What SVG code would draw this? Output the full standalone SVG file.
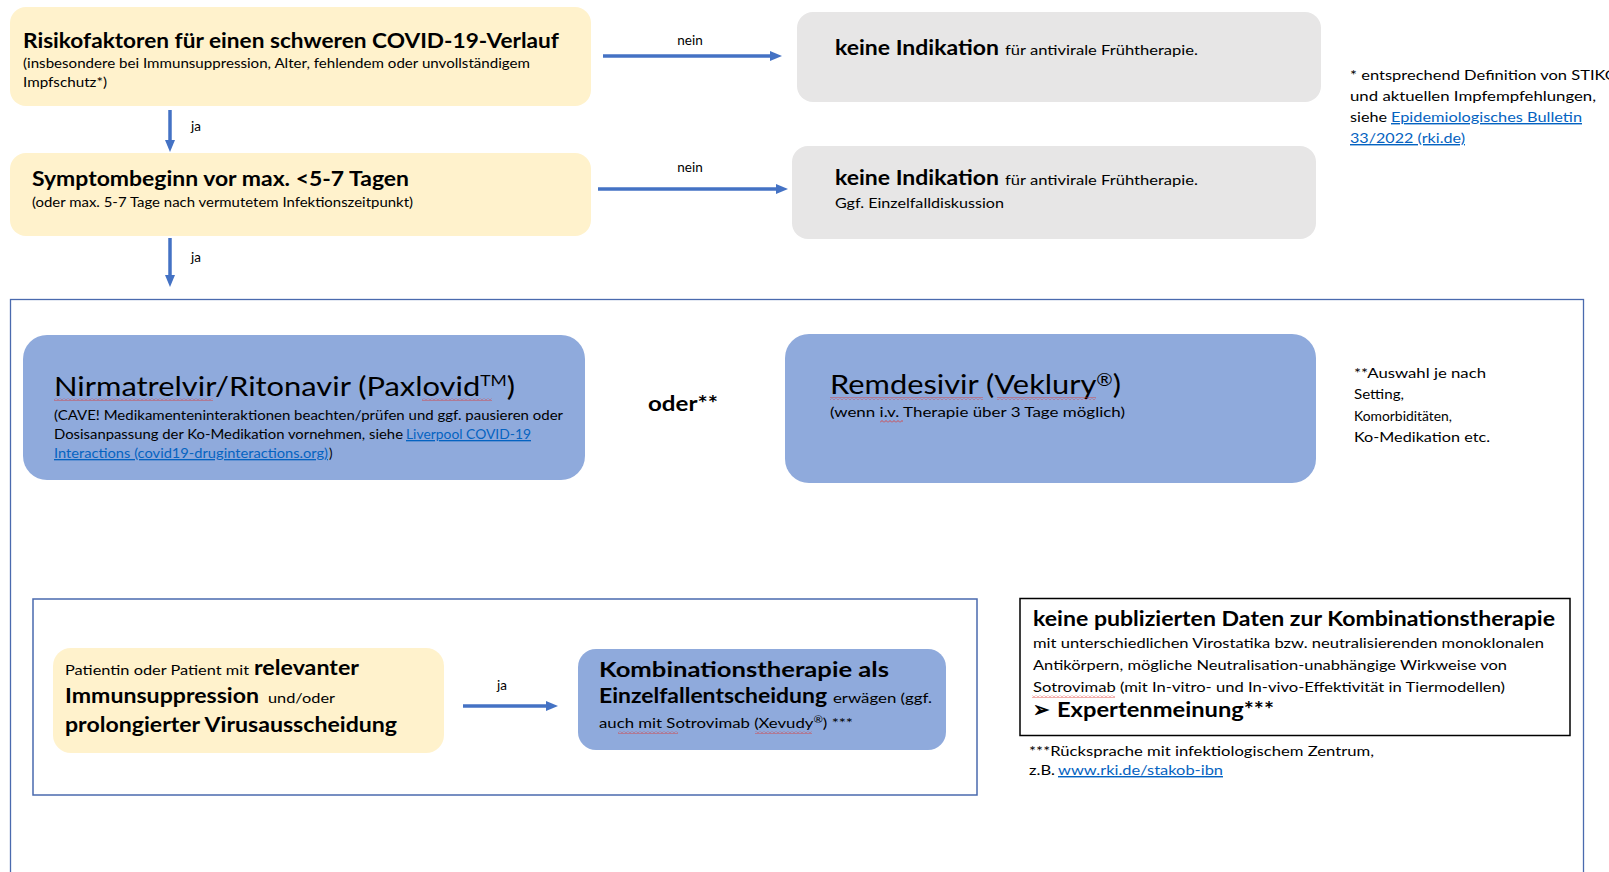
<svg xmlns="http://www.w3.org/2000/svg" width="1609" height="872" viewBox="0 0 1609 872">
<style>
text{font-family:Lato,"Open Sans","Noto Sans",sans-serif;fill:#000}
.b{font-weight:bold}
.t{font-size:20px;font-weight:bold}
.s{font-size:13.3px}
.f{font-size:14.2px}
.d{font-size:26.5px}
.lnk{fill:#0563C1;text-decoration:underline}
.y{fill:#FFF2CC}
.g{fill:#E7E6E6}
.bl{fill:#8FAADC}
.arr{stroke:#4472C4;stroke-width:3.5;fill:none;marker-end:url(#ah)}
.lab{font-size:13.5px}
</style>
<defs>
<marker id="ah" markerWidth="12" markerHeight="10" refX="2" refY="5" orient="auto" markerUnits="userSpaceOnUse"><path d="M0,0 L12,5 L0,10 z" fill="#4472C4"/></marker>
<pattern id="wave" width="4" height="3" patternUnits="userSpaceOnUse"><polyline points="0,2.5 2,0.5 4,2.5" fill="none" stroke="#E0322B" stroke-width="0.8"/></pattern>
</defs>
<rect width="1609" height="872" fill="#fff"/>

<!-- frames -->
<g id="frame-outer"><rect x="10.5" y="299.5" width="1573" height="620" fill="none" stroke="#4A6AAE" stroke-width="1.3"/></g>
<g id="frame-inner"><rect x="33" y="599" width="944" height="196" fill="none" stroke="#4A6AAE" stroke-width="1.5"/></g>

<g id="n-risiko">
<rect class="y" x="10" y="7" width="581" height="99" rx="16"/>
<text class="t" x="23" y="48" textLength="536" lengthAdjust="spacingAndGlyphs">Risikofaktoren für einen schweren COVID-19-Verlauf</text>
<text class="s" x="23" y="68" textLength="507" lengthAdjust="spacingAndGlyphs">(insbesondere bei Immunsuppression, Alter, fehlendem oder unvollständigem</text>
<text class="s" x="23" y="87" textLength="84" lengthAdjust="spacingAndGlyphs">Impfschutz*)</text>
</g>

<g id="n-symptom">
<rect class="y" x="10" y="153" width="581" height="83" rx="16"/>
<text class="t" x="32" y="186" textLength="377" lengthAdjust="spacingAndGlyphs">Symptombeginn vor max. &lt;5-7 Tagen</text>
<text class="s" x="32" y="207" textLength="381" lengthAdjust="spacingAndGlyphs">(oder max. 5-7 Tage nach vermutetem Infektionszeitpunkt)</text>
</g>

<g id="n-keine1">
<rect class="g" x="797" y="12" width="524" height="90" rx="16"/>
<text class="t" x="835" y="55" textLength="164" lengthAdjust="spacingAndGlyphs">keine Indikation</text>
<text class="s" x="1005" y="55" textLength="193" lengthAdjust="spacingAndGlyphs">für antivirale Frühtherapie.</text>
</g>

<g id="n-keine2">
<rect class="g" x="792" y="146" width="524" height="93" rx="16"/>
<text class="t" x="835" y="185" textLength="164" lengthAdjust="spacingAndGlyphs">keine Indikation</text>
<text class="s" x="1005" y="185" textLength="193" lengthAdjust="spacingAndGlyphs">für antivirale Frühtherapie.</text>
<text class="s" x="835" y="208" textLength="169" lengthAdjust="spacingAndGlyphs">Ggf. Einzelfalldiskussion</text>
</g>

<g id="note-stiko">
<text class="f" x="1350" y="80" textLength="268" lengthAdjust="spacingAndGlyphs">* entsprechend Definition von STIKO</text>
<text class="f" x="1350" y="101" textLength="246" lengthAdjust="spacingAndGlyphs">und aktuellen Impfempfehlungen,</text>
<text class="f" x="1350" y="122" textLength="37" lengthAdjust="spacingAndGlyphs">siehe</text>
<text class="f lnk" x="1391" y="122" textLength="191" lengthAdjust="spacingAndGlyphs">Epidemiologisches Bulletin</text>
<text class="f lnk" x="1350" y="143" textLength="115" lengthAdjust="spacingAndGlyphs">33/2022 (rki.de)</text>
</g>

<g id="n-paxlovid">
<rect class="bl" x="23" y="335" width="562" height="145" rx="24"/>
<text class="d" x="54" y="396" textLength="461" lengthAdjust="spacingAndGlyphs">Nirmatrelvir/Ritonavir (Paxlovid<tspan font-size="15" baseline-shift="10">TM</tspan>)</text>
<rect x="54" y="398" width="159" height="3" fill="url(#wave)"/>
<rect x="422" y="398" width="70" height="3" fill="url(#wave)"/>
<text class="s" x="54" y="420" textLength="509" lengthAdjust="spacingAndGlyphs">(CAVE! Medikamenteninteraktionen beachten/prüfen und ggf. pausieren oder</text>
<text class="s" x="54" y="439" textLength="349" lengthAdjust="spacingAndGlyphs">Dosisanpassung der Ko-Medikation vornehmen, siehe</text>
<text class="s lnk" x="406" y="439" textLength="125" lengthAdjust="spacingAndGlyphs">Liverpool COVID-19</text>
<text class="s lnk" x="54" y="458" textLength="274" lengthAdjust="spacingAndGlyphs">Interactions (covid19-druginteractions.org)</text>
<text class="s" x="329" y="458">)</text>
</g>

<text id="oder" class="b" x="648" y="411" font-size="20" textLength="70" lengthAdjust="spacingAndGlyphs">oder**</text>

<g id="n-remdesivir">
<rect class="bl" x="785" y="334" width="531" height="149" rx="24"/>
<text class="d" x="830" y="394" textLength="291" lengthAdjust="spacingAndGlyphs">Remdesivir (Veklury<tspan font-size="17" baseline-shift="8">®</tspan>)</text>
<rect x="830" y="397" width="153" height="3" fill="url(#wave)"/>
<rect x="997" y="397" width="99" height="3" fill="url(#wave)"/>
<text class="s" x="830" y="417" textLength="295" lengthAdjust="spacingAndGlyphs">(wenn i.v. Therapie über 3 Tage möglich)</text>
<rect x="880" y="420" width="23" height="3" fill="url(#wave)"/>
</g>

<g id="note-auswahl">
<text class="f" x="1354" y="378" textLength="132" lengthAdjust="spacingAndGlyphs">**Auswahl je nach</text>
<text class="f" x="1354" y="399" textLength="50" lengthAdjust="spacingAndGlyphs">Setting,</text>
<text class="f" x="1354" y="421" textLength="98" lengthAdjust="spacingAndGlyphs">Komorbiditäten,</text>
<text class="f" x="1354" y="442" textLength="136" lengthAdjust="spacingAndGlyphs">Ko-Medikation etc.</text>
</g>

<g id="n-patient">
<rect class="y" x="53" y="648" width="391" height="105" rx="18"/>
<text class="s" x="65" y="675" textLength="184" lengthAdjust="spacingAndGlyphs">Patientin oder Patient mit</text>
<text class="t" x="254" y="675" textLength="105" lengthAdjust="spacingAndGlyphs">relevanter</text>
<text class="t" x="65" y="703" textLength="194" lengthAdjust="spacingAndGlyphs">Immunsuppression</text>
<text class="s" x="268" y="703" textLength="67" lengthAdjust="spacingAndGlyphs">und/oder</text>
<text class="t" x="65" y="732" textLength="332" lengthAdjust="spacingAndGlyphs">prolongierter Virusausscheidung</text>
</g>

<g id="n-kombi">
<rect class="bl" x="578" y="649" width="368" height="101" rx="18"/>
<text class="t" x="599" y="677" textLength="290" lengthAdjust="spacingAndGlyphs">Kombinationstherapie als</text>
<text class="t" x="599" y="703" textLength="228" lengthAdjust="spacingAndGlyphs">Einzelfallentscheidung</text>
<text class="s" x="833" y="703" textLength="99" lengthAdjust="spacingAndGlyphs">erwägen (ggf.</text>
<text class="s" x="599" y="728" textLength="254" lengthAdjust="spacingAndGlyphs">auch mit Sotrovimab (Xevudy<tspan font-size="9" baseline-shift="5">®</tspan>) ***</text>
<rect x="618" y="731" width="60" height="3" fill="url(#wave)"/>
<rect x="755" y="731" width="57" height="3" fill="url(#wave)"/>
</g>

<g id="n-keinedaten">
<rect x="1020" y="598.5" width="550" height="137" fill="#fff" stroke="#000" stroke-width="1.5"/>
<text class="t" x="1033" y="626" font-size="20.5" textLength="522" lengthAdjust="spacingAndGlyphs">keine publizierten Daten zur Kombinationstherapie</text>
<text class="f" x="1033" y="648" textLength="511" lengthAdjust="spacingAndGlyphs">mit unterschiedlichen Virostatika bzw. neutralisierenden monoklonalen</text>
<text class="f" x="1033" y="670" textLength="474" lengthAdjust="spacingAndGlyphs">Antikörpern, mögliche Neutralisation-unabhängige Wirkweise von</text>
<text class="f" x="1033" y="692" textLength="472" lengthAdjust="spacingAndGlyphs">Sotrovimab (mit In-vitro- und In-vivo-Effektivität in Tiermodellen)</text>
<rect x="1032" y="695" width="83" height="3" fill="url(#wave)"/>
<text x="1033" y="717" font-size="22" font-weight="bold" font-family="DejaVu Sans, sans-serif" textLength="16" lengthAdjust="spacingAndGlyphs">➢</text>
<text class="t" x="1057" y="717" textLength="217" lengthAdjust="spacingAndGlyphs">Expertenmeinung***</text>
</g>

<g id="note-ruecksprache">
<text class="f" x="1029" y="756" textLength="345" lengthAdjust="spacingAndGlyphs">***Rücksprache mit infektiologischem Zentrum,</text>
<text class="f" x="1029" y="775" textLength="26" lengthAdjust="spacingAndGlyphs">z.B.</text>
<text class="f lnk" x="1058" y="775" textLength="165" lengthAdjust="spacingAndGlyphs">www.rki.de/stakob-ibn</text>
</g>

<g id="connectors">
<line class="arr" x1="170" y1="110" x2="170" y2="142"/>
<text class="lab" x="191" y="131">ja</text>
<line class="arr" x1="170" y1="238" x2="170" y2="277"/>
<text class="lab" x="191" y="262">ja</text>
<line class="arr" x1="603" y1="56" x2="772" y2="56"/>
<text class="lab" x="690" y="45" text-anchor="middle">nein</text>
<line class="arr" x1="598" y1="189" x2="778" y2="189"/>
<text class="lab" x="690" y="172" text-anchor="middle">nein</text>
<line class="arr" x1="463" y1="706" x2="548" y2="706"/>
<text class="lab" x="497" y="690">ja</text>
</g>
</svg>
